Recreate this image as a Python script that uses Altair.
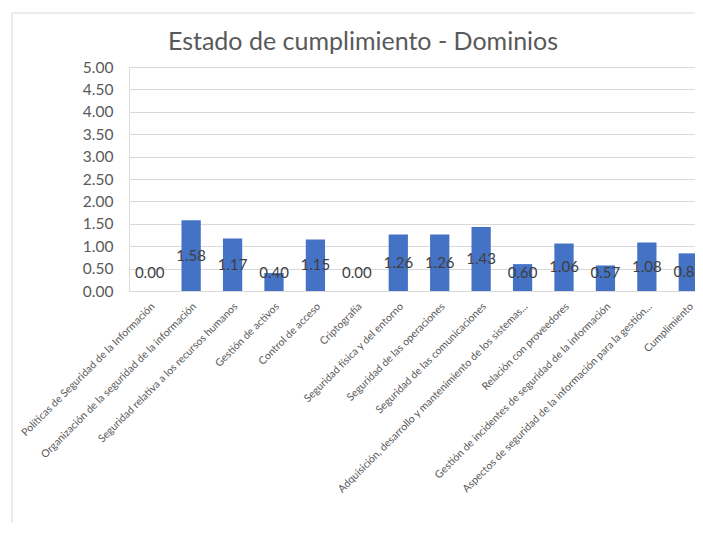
import altair as alt
import pandas as pd

categorias = [
    "Políticas de Seguridad de la Información",
    "Organización de la seguridad de la información",
    "Seguridad relativa a los recursos humanos",
    "Gestión de activos",
    "Control de acceso",
    "Criptografía",
    "Seguridad física y del entorno",
    "Seguridad de las operaciones",
    "Seguridad de las comunicaciones",
    "Adquisición, desarrollo y mantenimiento de los sistemas...",
    "Relación con proveedores",
    "Gestión de incidentes de seguridad de la información",
    "Aspectos de seguridad de la información para la gestión...",
    "Cumplimiento",
]
valores = [0.00, 1.58, 1.17, 0.40, 1.15, 0.00, 1.26, 1.26, 1.43, 0.60, 1.06, 0.57, 1.08, 0.84]
ticks_y = [0, 0.5, 1.0, 1.5, 2.0, 2.5, 3.0, 3.5, 4.0, 4.5, 5.0]

df = pd.DataFrame({"dominio": categorias, "valor": valores})

FONT = "Lato"
W, H = 566, 224

x_scale = alt.Scale(range=[0, 580], paddingInner=0.535, paddingOuter=0.2675)
x_axis = alt.Axis(
    labelAngle=-45,
    labelAlign="right",
    labelBaseline="top",
    labelPadding=10,
    labelFont=FONT,
    labelFontSize=10.5,
    labelColor="#595959",
    labelLimit=400,
    labelOverlap=False,
    ticks=False,
    domain=False,
    grid=False,
)

y_scale = alt.Scale(domain=[0, 5], nice=False)
y_axis = alt.Axis(
    values=ticks_y,
    format=".2f",
    labelFont=FONT,
    labelFontSize=15.5,
    labelColor="#595959",
    labelPadding=16,
    labelOverlap=False,
    ticks=False,
    domain=False,
    gridColor="#d9d9d9",
    gridWidth=1,
)

bars = alt.Chart(df).mark_bar(color="#4472C4").encode(
    x=alt.X("dominio:N", sort=categorias, title=None, scale=x_scale, axis=x_axis),
    y=alt.Y("valor:Q", scale=y_scale, title=None, axis=y_axis),
)

labels = alt.Chart(df).transform_calculate(
    pos="max(datum.valor / 2, 0.4)"
).mark_text(
    font=FONT, fontSize=15, color="#404040", baseline="middle", align="center"
).encode(
    x=alt.X("dominio:N", sort=categorias, title=None, scale=x_scale, axis=x_axis),
    y=alt.Y("pos:Q", scale=y_scale, title=None, axis=y_axis),
    text=alt.Text("valor:Q", format=".2f"),
)

borde_df = pd.DataFrame({"b": [0]})
borde_izq = alt.Chart(borde_df).mark_rule(color="#d9d9d9", strokeWidth=1).encode(
    x=alt.value(-117), y=alt.value(-54), y2=alt.value(H + 240)
)
borde_sup = alt.Chart(borde_df).mark_rule(color="#d9d9d9", strokeWidth=1).encode(
    x=alt.value(-117), x2=alt.value(W + 20), y=alt.value(-54)
)

chart = alt.layer(bars, labels, borde_izq, borde_sup).properties(
    width=W,
    height=H,
    title=alt.TitleParams(
        "Estado de cumplimiento - Dominios",
        font=FONT,
        fontSize=25,
        fontWeight="normal",
        color="#595959",
        anchor="middle",
        baseline="alphabetic",
        offset=0,
        dx=-49,
        dy=62,
    ),
    autosize=alt.AutoSizeParams(type="none"),
    padding={"left": 121, "top": 59, "right": 0, "bottom": 232},
).configure_view(strokeWidth=0).configure(background="white")

chart.save("out.html", embed_options={"renderer": "svg", "actions": False})
